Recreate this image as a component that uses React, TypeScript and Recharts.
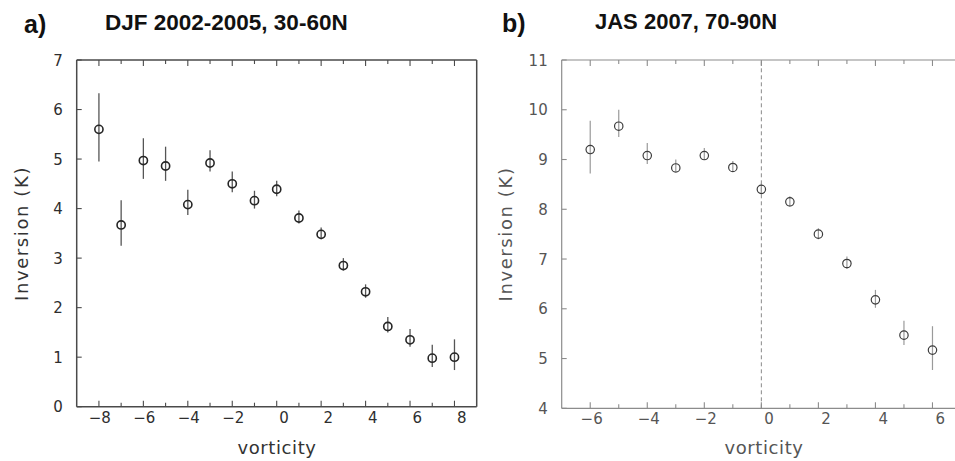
import React from 'react';
import { ScatterChart, Scatter, XAxis, YAxis, ErrorBar, ReferenceLine } from 'recharts';

// Panel a) DJF 2002-2005, 30-60N
const vortA = [-8, -7, -6, -5, -4, -3, -2, -1, 0, 1, 2, 3, 4, 5, 6, 7, 8];
const invA = [5.6, 3.67, 4.97, 4.86, 4.08, 4.92, 4.5, 4.16, 4.39, 3.81, 3.48, 2.85, 2.32, 1.62, 1.35, 0.98, 1.0];
const hiA = [6.33, 4.17, 5.42, 5.25, 4.38, 5.18, 4.75, 4.36, 4.56, 3.96, 3.62, 3.0, 2.47, 1.81, 1.57, 1.25, 1.36];
const loA = [4.95, 3.25, 4.6, 4.56, 3.87, 4.75, 4.33, 4.0, 4.25, 3.7, 3.38, 2.75, 2.2, 1.5, 1.21, 0.8, 0.74];
const xTicksA = [-8, -7, -6, -5, -4, -3, -2, -1, 0, 1, 2, 3, 4, 5, 6, 7, 8];
const yTicksA = [0, 1, 2, 3, 4, 5, 6, 7];

// Panel b) JAS 2007, 70-90N
const vortB = [-6, -5, -4, -3, -2, -1, 0, 1, 2, 3, 4, 5, 6];
const invB = [9.2, 9.67, 9.08, 8.83, 9.08, 8.84, 8.4, 8.15, 7.5, 6.91, 6.18, 5.47, 5.17];
const hiB = [9.78, 10.0, 9.33, 9.0, 9.23, 8.97, 8.52, 8.26, 7.62, 7.05, 6.38, 5.76, 5.65];
const loB = [8.72, 9.45, 8.91, 8.76, 8.99, 8.76, 8.3, 8.05, 7.4, 6.8, 6.02, 5.27, 4.77];
const xTicksB = [-6, -5, -4, -3, -2, -1, 0, 1, 2, 3, 4, 5, 6];
const yTicksB = [4, 5, 6, 7, 8, 9, 10, 11];

const rows = (xs: number[], ys: number[], hi: number[], lo: number[]) =>
  xs.map((x, i) => ({ x, y: ys[i], err: [ys[i] - lo[i], hi[i] - ys[i]] }));

const dataA = rows(vortA, invA, hiA, loA);
const dataB = rows(vortB, invB, hiB, loB);

const FONT = '"DejaVu Sans", sans-serif';
const minus = (v: number) => (v < 0 ? '\u2212' + Math.abs(v) : String(v));

type Look = { frame: string; frameW: number; text: string; mark: string; markW: number; r: number; bar: string; barW: number; dx: number };

const lookA: Look = { frame: '#4a4a4a', frameW: 1.5, text: '#2e2e2e', mark: '#262626', markW: 1.6, r: 4.1, bar: '#555', barW: 1.3, dx: 12 };
const lookB: Look = { frame: '#8c8c8c', frameW: 1.2, text: '#555', mark: '#3c3c3c', markW: 1.2, r: 4.2, bar: '#9a9a9a', barW: 1.2, dx: 12.5 };

function Panel({ data, xDomain, yDomain, xTicks, yTicks, look, width, margin, zeroLine }:
  { data: any[]; xDomain: [number, number]; yDomain: [number, number]; xTicks: number[]; yTicks: number[]; look: Look; width: number; margin: any; zeroLine?: boolean }) {
  const bottomTick = (p: any) => {
    const v = p.payload.value;
    const major = v % 2 === 0;
    return (
      <g>
        <line x1={p.x} x2={p.x} y1={p.y} y2={p.y - (major ? 6 : 4)} stroke={look.frame} strokeWidth={1.1} />
        {major && (
          <text x={p.x + look.dx} y={p.y + 16} textAnchor="end" fontSize={15} fontFamily={FONT} fill={look.text}>{minus(v)}</text>
        )}
      </g>
    );
  };
  const topTick = (p: any) => {
    const major = p.payload.value % 2 === 0;
    return <line x1={p.x} x2={p.x} y1={p.y} y2={p.y + (major ? 6 : 4)} stroke={look.frame} strokeWidth={1.1} />;
  };
  const leftTick = (p: any) => (
    <g>
      <line x1={p.x} x2={p.x + 5} y1={p.y} y2={p.y} stroke={look.frame} strokeWidth={1.1} />
      <text x={p.x - 14} y={p.y + 5.5} textAnchor="end" fontSize={15} fontFamily={FONT} fill={look.text}>{p.payload.value}</text>
    </g>
  );
  const dot = (p: any) => <circle cx={p.cx} cy={p.cy} r={look.r} fill="none" stroke={look.mark} strokeWidth={look.markW} />;

  return (
    <ScatterChart width={width} height={461} margin={margin}>
      <XAxis type="number" dataKey="x" xAxisId={0} domain={xDomain} ticks={xTicks} allowDataOverflow
        height={30} tickSize={0} tickMargin={0} tickLine={false} tick={bottomTick} interval={0}
        axisLine={{ stroke: look.frame, strokeWidth: look.frameW }} />
      <XAxis type="number" dataKey="x" xAxisId="top" orientation="top" domain={xDomain} ticks={xTicks} allowDataOverflow
        height={10} tickSize={0} tickMargin={0} tickLine={false} tick={topTick} interval={0}
        axisLine={{ stroke: look.frame, strokeWidth: look.frameW }} />
      <YAxis type="number" dataKey="y" yAxisId={0} domain={yDomain} ticks={yTicks} allowDataOverflow
        width={40} tickSize={0} tickMargin={0} tickLine={false} tick={leftTick} interval={0}
        axisLine={{ stroke: look.frame, strokeWidth: look.frameW }} />
      <YAxis type="number" dataKey="y" yAxisId="right" orientation="right" domain={yDomain} allowDataOverflow
        width={2} tick={false} tickLine={false}
        axisLine={{ stroke: look.frame, strokeWidth: look.frameW }} />
      {zeroLine && (
        <ReferenceLine x={0} xAxisId={0} yAxisId={0} stroke="#8a8a8a" strokeWidth={1} strokeDasharray="4 3" />
      )}
      <Scatter data={data} xAxisId={0} yAxisId={0} shape={dot} isAnimationActive={false}>
        <ErrorBar dataKey="err" direction="y" width={0} stroke={look.bar} strokeWidth={look.barW} isAnimationActive={false} />
      </Scatter>
    </ScatterChart>
  );
}

export default function App() {
  return (
    <div style={{ position: 'absolute', left: 0, top: 0, width: 955, height: 461, overflow: 'hidden', background: '#fff' }}>
      <div style={{ position: 'absolute', left: 0, top: 0 }}>
        <Panel data={dataA} xDomain={[-9, 9]} yDomain={[0, 7]} xTicks={xTicksA} yTicks={yTicksA} look={lookA}
          width={480} margin={{ top: 50, left: 36.7, right: 1.3, bottom: 24.3 }} />
      </div>
      <div style={{ position: 'absolute', left: 480, top: 0 }}>
        <Panel data={dataB} xDomain={[-7, 7]} yDomain={[4, 11]} xTicks={xTicksB} yTicks={yTicksB} look={lookB}
          width={490} margin={{ top: 50, left: 41.7, right: 7, bottom: 22.7 }} zeroLine />
      </div>
      <svg width={955} height={461} style={{ position: 'absolute', left: 0, top: 0, pointerEvents: 'none' }}>
        <g fontFamily='"Liberation Sans", Arial, sans-serif' fontWeight="bold" fill="#111">
          <text x={24} y={33} fontSize={25}>a)</text>
          <text x={105} y={30} fontSize={22.5}>DJF 2002-2005, 30-60N</text>
          <text x={502} y={32} fontSize={25}>b)</text>
          <text x={595} y={28.5} fontSize={22}>JAS 2007, 70-90N</text>
        </g>
        <g fontFamily={FONT} fontSize={18}>
          <text x={277} y={454} textAnchor="middle" fill="#333" letterSpacing={0.6}>vorticity</text>
          <text x={21} y={233.5} textAnchor="middle" dominantBaseline="central" fill="#333" letterSpacing={1.6}
            transform="rotate(-90 21 233.5)">Inversion (K)</text>
          <text x={764} y={454} textAnchor="middle" fill="#555" letterSpacing={0.6}>vorticity</text>
          <text x={505} y={234} textAnchor="middle" dominantBaseline="central" fill="#555" letterSpacing={1.6}
            transform="rotate(-90 505 234)">Inversion (K)</text>
        </g>
      </svg>
    </div>
  );
}
